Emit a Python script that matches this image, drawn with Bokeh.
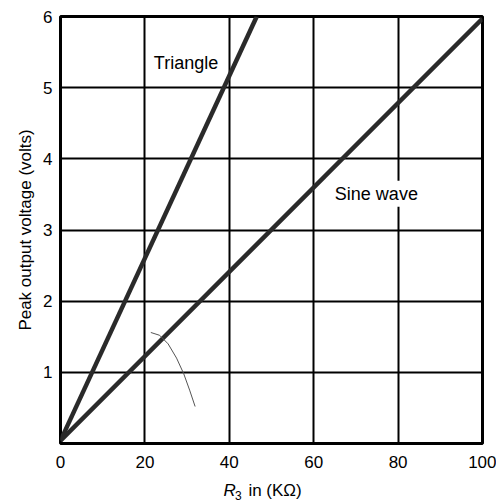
from bokeh.plotting import figure
from bokeh.layouts import column
from bokeh.models import Range1d, FixedTicker, Label
from bokeh.core.properties import value
from bokeh.embed import file_html
from bokeh.resources import INLINE

# Data
tri_x = [0, 46.5]
tri_y = [0.04, 6.0]
sine_x = [0, 100]
sine_y = [0.04, 5.97]
x_ticks = [0, 20, 40, 60, 80, 100]
y_ticks = [1, 2, 3, 4, 5, 6]
# stray pencil mark on the scan
mark_x = [21.4, 23.5, 25.5, 27.5, 29.2, 30.6, 31.9]
mark_y = [1.56, 1.52, 1.40, 1.20, 0.98, 0.75, 0.52]

FONT = "Liberation Sans"

p = figure(width=496, height=474, output_backend="svg", toolbar_location=None,
           x_range=Range1d(0, 100), y_range=Range1d(0, 6),
           min_border_left=60, min_border_right=14, min_border_top=16, min_border_bottom=31)

p.line(tri_x, tri_y, line_color="#2a2a2a", line_width=4.5)
p.line(sine_x, sine_y, line_color="#2a2a2a", line_width=4.5)
p.line(mark_x, mark_y, line_color="#555555", line_width=1)

p.xaxis.ticker = FixedTicker(ticks=x_ticks)
p.yaxis.ticker = FixedTicker(ticks=y_ticks)
for ax in (p.xaxis[0], p.yaxis[0]):
    ax.axis_line_color = None
    ax.major_tick_line_color = None
    ax.minor_tick_line_color = None
    ax.major_label_text_font = FONT
    ax.major_label_text_font_size = "17px"
    ax.major_label_text_color = "black"
    ax.axis_label_text_font = FONT
    ax.axis_label_text_font_size = "17px"
    ax.axis_label_text_font_style = "normal"
    ax.axis_label_text_color = "black"

p.yaxis.axis_label = "Peak output voltage (volts)"
p.xaxis.major_label_standoff = 6
p.yaxis.major_label_standoff = 2
p.yaxis.axis_label_standoff = 5

p.xgrid.ticker = FixedTicker(ticks=[20, 40, 60, 80])
p.ygrid.ticker = FixedTicker(ticks=[1, 2, 3, 4, 5])
p.grid.grid_line_color = "black"
p.grid.grid_line_width = 2
p.grid.grid_line_alpha = 1

p.outline_line_color = "black"
p.outline_line_width = 3
p.background_fill_color = "white"
p.border_fill_color = "white"

p.add_layout(Label(x=21.4, y=5.34, text="Triangle", text_font=FONT, text_font_size="18px",
                   text_color="black", text_baseline="middle",
                   background_fill_color="white", padding=3))
p.add_layout(Label(x=64.3, y=3.51, text="Sine wave", text_font=FONT, text_font_size="18px",
                   text_color="black", text_baseline="middle",
                   background_fill_color="white", padding=3))

# x axis title strip: R (italic) with subscript 3, then "in (KΩ)"
t = figure(width=496, height=30, output_backend="svg", toolbar_location=None,
           x_range=Range1d(0, 100), y_range=Range1d(0, 1),
           min_border_left=60, min_border_right=14, min_border_top=0, min_border_bottom=0)
t.axis.visible = False
t.grid.visible = False
t.outline_line_color = None
t.border_fill_color = "white"

PX = 100 / 422.0  # data units per pixel in the strip
XL_X, XL_Y = 38.6, 0.47
t.text(x=[XL_X], y=[XL_Y], text=["R"], text_font=value(FONT), text_font_size="17px",
       text_font_style="italic", text_baseline="middle", text_color="black")
t.text(x=[XL_X + 11.5 * PX], y=[XL_Y - 5 / 30], text=["3"], text_font=value(FONT),
       text_font_size="12px", text_baseline="middle", text_color="black")
t.text(x=[XL_X + 25 * PX], y=[XL_Y], text=["in (K\u03a9)"], text_font=value(FONT),
       text_font_size="17px", text_baseline="middle", text_color="black")

layout = column(p, t, spacing=0)
open("out.html", "w").write(file_html(layout, INLINE))
